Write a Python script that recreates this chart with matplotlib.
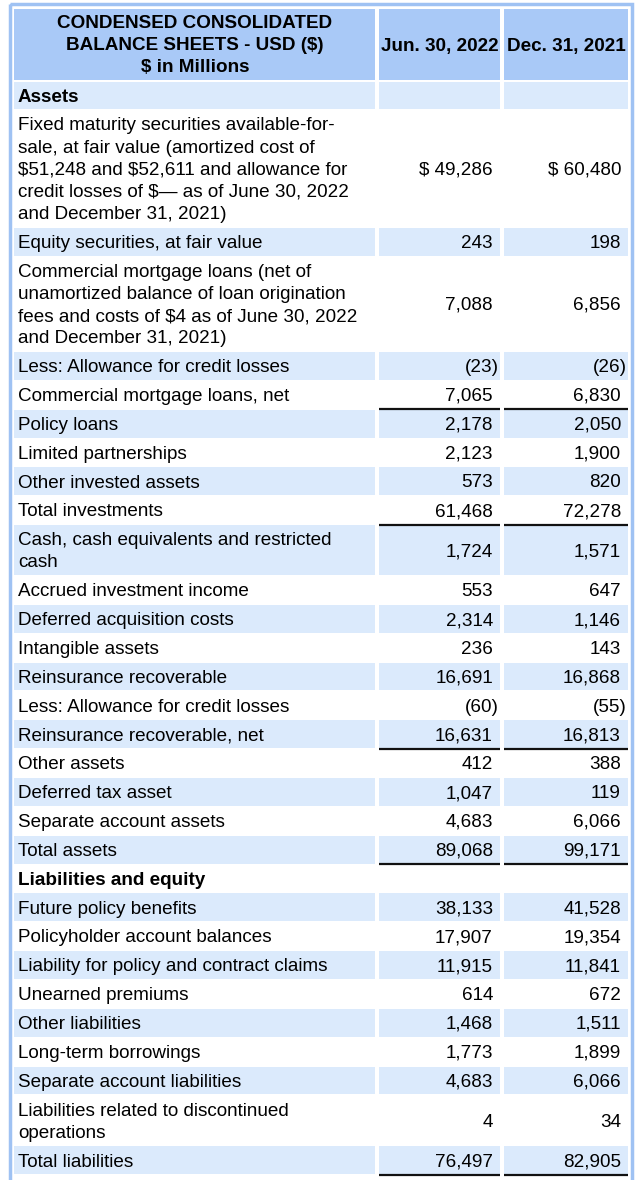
import matplotlib
matplotlib.use('Agg')
import matplotlib.pyplot as plt
from matplotlib.patches import Rectangle

plt.rcParams['font.family'] = ['Liberation Sans', 'DejaVu Sans']
plt.rcParams['text.parse_math'] = False

title_lines = ['CONDENSED CONSOLIDATED', 'BALANCE SHEETS - USD ($)', '$ in Millions']
col_heads = ['Jun. 30, 2022', 'Dec. 31, 2021']

labels = [
    'Assets',
    'Fixed maturity securities available-for-\nsale, at fair value (amortized cost of\n$51,248 and $52,611 and allowance for\ncredit losses of $\u2014 as of June 30, 2022\nand December 31, 2021)',
    'Equity securities, at fair value',
    'Commercial mortgage loans (net of\nunamortized balance of loan origination\nfees and costs of $4 as of June 30, 2022\nand December 31, 2021)',
    'Less: Allowance for credit losses',
    'Commercial mortgage loans, net',
    'Policy loans',
    'Limited partnerships',
    'Other invested assets',
    'Total investments',
    'Cash, cash equivalents and restricted\ncash',
    'Accrued investment income',
    'Deferred acquisition costs',
    'Intangible assets',
    'Reinsurance recoverable',
    'Less: Allowance for credit losses',
    'Reinsurance recoverable, net',
    'Other assets',
    'Deferred tax asset',
    'Separate account assets',
    'Total assets',
    'Liabilities and equity',
    'Future policy benefits',
    'Policyholder account balances',
    'Liability for policy and contract claims',
    'Unearned premiums',
    'Other liabilities',
    'Long-term borrowings',
    'Separate account liabilities',
    'Liabilities related to discontinued\noperations',
    'Total liabilities',
]
jun_2022 = [None, 49286, 243, 7088, -23, 7065, 2178, 2123, 573, 61468, 1724, 553, 2314,
            236, 16691, -60, 16631, 412, 1047, 4683, 89068, None, 38133, 17907, 11915,
            614, 1468, 1773, 4683, 4, 76497]
dec_2021 = [None, 60480, 198, 6856, -26, 6830, 2050, 1900, 820, 72278, 1571, 647, 1146,
            143, 16868, -55, 16813, 388, 119, 6066, 99171, None, 41528, 19354, 11841,
            672, 1511, 1899, 6066, 34, 82905]
bold_rows = ['Assets', 'Liabilities and equity']
dollar_rows = [1]
underlined = ['Commercial mortgage loans, net', 'Total investments',
              'Reinsurance recoverable, net', 'Total assets', 'Total liabilities']

head_col = '#a9c9f7'
shade = '#dbeafc'
border = '#9fc2f3'
fs = 13.6

fig = plt.figure(figsize=(6.4, 11.8), dpi=100)
ax = fig.add_axes([0, 0, 1, 1])
ax.set_xlim(0, 640)
ax.set_ylim(1180, 0)
ax.axis('off')

cols = [(14, 375), (379, 500), (504, 628)]

# outer frame
ax.add_patch(Rectangle((9.5, 3.5), 622.5, 1190, fill=False, ec=border, lw=2.5))

# header
for x0, x1 in cols:
    ax.add_patch(Rectangle((x0, 9), x1 - x0, 71, fc=head_col, ec='none'))
for i, t in enumerate(title_lines):
    ax.text(195, 28 + 22 * i, t, ha='center', va='baseline', fontsize=fs, fontweight='bold')
for (x0, x1), t in zip(cols[1:], col_heads):
    ax.text((x0 + x1) / 2, 51, t, ha='center', va='baseline', fontsize=fs, fontweight='bold')


def fmt(v, dollar):
    if v is None:
        return ''
    if v < 0:
        return '(%s)' % format(-v, ',')
    s = format(v, ',')
    return '$ ' + s if dollar else s


pad, lh = 6.7, 22.15
y = 81
for i, lab in enumerate(labels):
    lines = lab.split('\n')
    h = pad + lh * len(lines)
    if i % 2 == 0:
        for x0, x1 in cols:
            ax.add_patch(Rectangle((x0, y + 0.5), x1 - x0, h - 1, fc=shade, ec='none'))
    bold = 'bold' if lab in bold_rows else 'normal'
    for k, ln in enumerate(lines):
        ax.text(18, y + pad / 2 + lh * k + 17.3, ln, ha='left', va='baseline',
                fontsize=fs, fontweight=bold)
    mid = y + h / 2
    for (x0, x1), v in zip(cols[1:], (jun_2022[i], dec_2021[i])):
        s = fmt(v, i in dollar_rows)
        if s:
            xr = x1 - 1 if s.startswith('(') else x1 - 7
            ax.text(xr, mid + 6.2, s, ha='right', va='baseline', fontsize=fs)
    if lab in underlined:
        for x0, x1 in cols[1:]:
            ax.plot([x0, x1], [y + h, y + h], color='#111111', lw=1.6, solid_capstyle='butt')
    y += h

fig.savefig('out.png', dpi=100)
